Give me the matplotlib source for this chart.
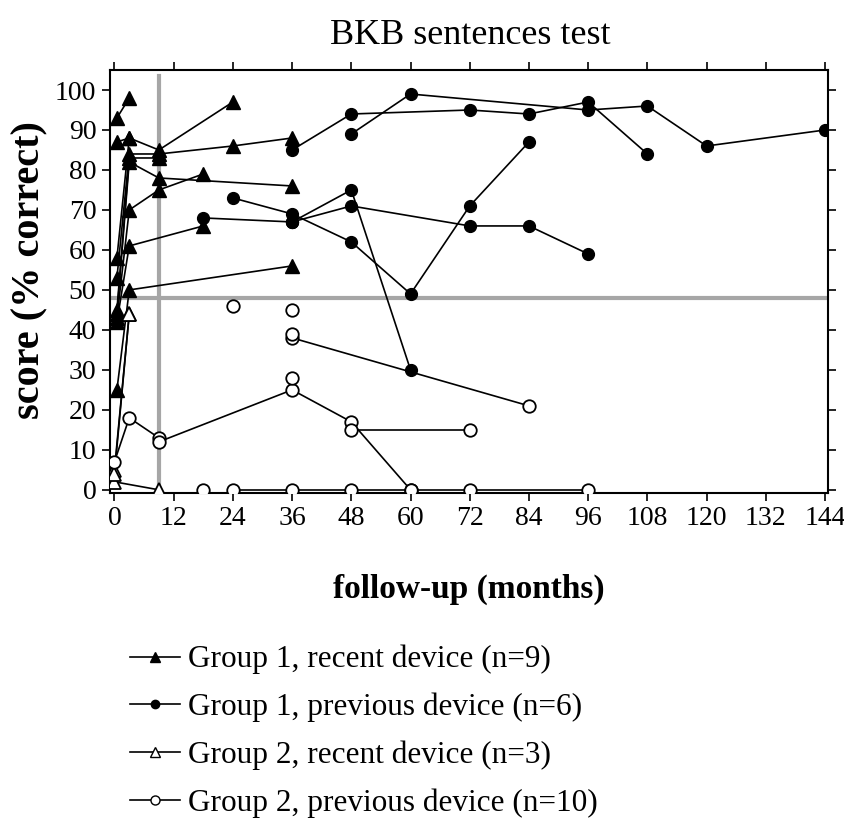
import matplotlib
matplotlib.use("Agg")
import matplotlib.pyplot as plt
from matplotlib.lines import Line2D

plt.rcParams['font.family'] = ['Liberation Serif', 'DejaVu Serif']

# Group 1, recent device (filled triangles)
g1_recent_months = [
    [0.5, 3],
    [0.5, 3],
    [0.5, 3, 9, 24],
    [0.5, 3, 9, 24, 36],
    [0.5, 3, 9],
    [0.5, 3, 9, 36],
    [0.5, 3, 9, 18],
    [0.5, 3, 18],
    [0.5, 3, 36],
]
g1_recent_scores = [
    [93, 98],
    [87, 88],
    [58, 88, 85, 97],
    [53, 84, 84, 86, 88],
    [45, 83, 83],
    [44, 82, 78, 76],
    [43, 70, 75, 79],
    [42, 61, 66],
    [25, 50, 56],
]

# Group 1, previous device (filled circles)
g1_prev_months = [
    [36, 48, 72, 84, 96, 108],
    [48, 60, 96, 108, 120, 144],
    [24, 36, 48, 60, 72, 84],
    [18, 36, 48, 60],
    [36, 48, 72, 84, 96],
    [36],
]
g1_prev_scores = [
    [85, 94, 95, 94, 97, 84],
    [89, 99, 95, 96, 86, 90],
    [73, 69, 62, 49, 71, 87],
    [68, 67, 75, 30],
    [67, 71, 66, 66, 59],
    [67],
]

# Group 2, recent device (open triangles)
g2_recent_months = [
    [0, 3],
    [0, 9],
    [0, 3],
]
g2_recent_scores = [
    [5, 44],
    [2, 0],
    [4, 44],
]

# Group 2, previous device (open circles)
g2_prev_months = [
    [0, 3, 9],
    [9, 36, 48, 60],
    [36, 84],
    [48, 72],
    [24, 36, 48, 60, 72, 96],
    [18],
    [24],
    [36],
    [36],
    [36],
]
g2_prev_scores = [
    [7, 18, 13],
    [12, 25, 17, 0],
    [38, 21],
    [15, 15],
    [0, 0, 0, 0, 0, 0],
    [0],
    [46],
    [45],
    [39],
    [28],
]

ref_month = 9
ref_score = 48

legend_labels = [
    'Group 1, recent device (n=9)',
    'Group 1, previous device (n=6)',
    'Group 2, recent device (n=3)',
    'Group 2, previous device (n=10)',
]

fig = plt.figure(figsize=(8.45, 8.18), dpi=100)
ax = fig.add_axes([0.1296, 0.3973, 0.8497, 0.5171])

ax.axvline(ref_month, ymax=0.985, color='#a6a6a6', lw=3, zorder=1)
ax.axhline(ref_score, xmin=0.004, color='#a6a6a6', lw=3, zorder=1)

styles = [
    (g1_recent_months, g1_recent_scores, dict(marker='^', ms=10, mfc='black', mec='black')),
    (g1_prev_months, g1_prev_scores, dict(marker='o', ms=8.5, mfc='black', mec='black')),
    (g2_recent_months, g2_recent_scores, dict(marker='^', ms=10, mfc='white', mec='black', mew=1.3)),
    (g2_prev_months, g2_prev_scores, dict(marker='o', ms=9, mfc='white', mec='black', mew=1.3)),
]
for months, scores, st in styles:
    for m, s in zip(months, scores):
        ax.plot(m, s, color='black', lw=1.2, zorder=3, **st)

ax.set_xlim(-1, 144.5)
ax.set_ylim(-0.8, 105)
ax.set_xticks(range(0, 145, 12))
ax.set_yticks(range(0, 101, 10))
ax.tick_params(direction='out', length=6, width=1.2, labelsize=20,
               top=True, right=True, labeltop=False, labelright=False)
for sp in ax.spines.values():
    sp.set_linewidth(1.5)

fig.text(0.556, 0.957, 'BKB sentences test', ha='center', va='center', fontsize=26)
ax.set_xlabel('follow-up (months)', fontsize=24, fontweight='bold')
ax.xaxis.set_label_coords(0.5, -0.229)
ax.xaxis.label.set_va('center')
ax.set_ylabel('score (% correct)', fontsize=29, fontweight='bold')
ax.yaxis.set_label_coords(-0.111, 0.527)
ax.yaxis.label.set_va('center')

handles = [
    Line2D([], [], color='black', lw=1.2, marker='^', ms=7, mfc='black', mec='black'),
    Line2D([], [], color='black', lw=1.2, marker='o', ms=6, mfc='black', mec='black'),
    Line2D([], [], color='black', lw=1.2, marker='^', ms=7, mfc='white', mec='black'),
    Line2D([], [], color='black', lw=1.2, marker='o', ms=6.5, mfc='white', mec='black'),
]
fig.legend(handles, legend_labels, loc='upper left', bbox_to_anchor=(0.1538, 0.2115),
           frameon=False, fontsize=22.5, handlelength=1.6, handletextpad=0.25,
           labelspacing=0.59, borderpad=0, borderaxespad=0)

fig.savefig('out.png', dpi=100)
